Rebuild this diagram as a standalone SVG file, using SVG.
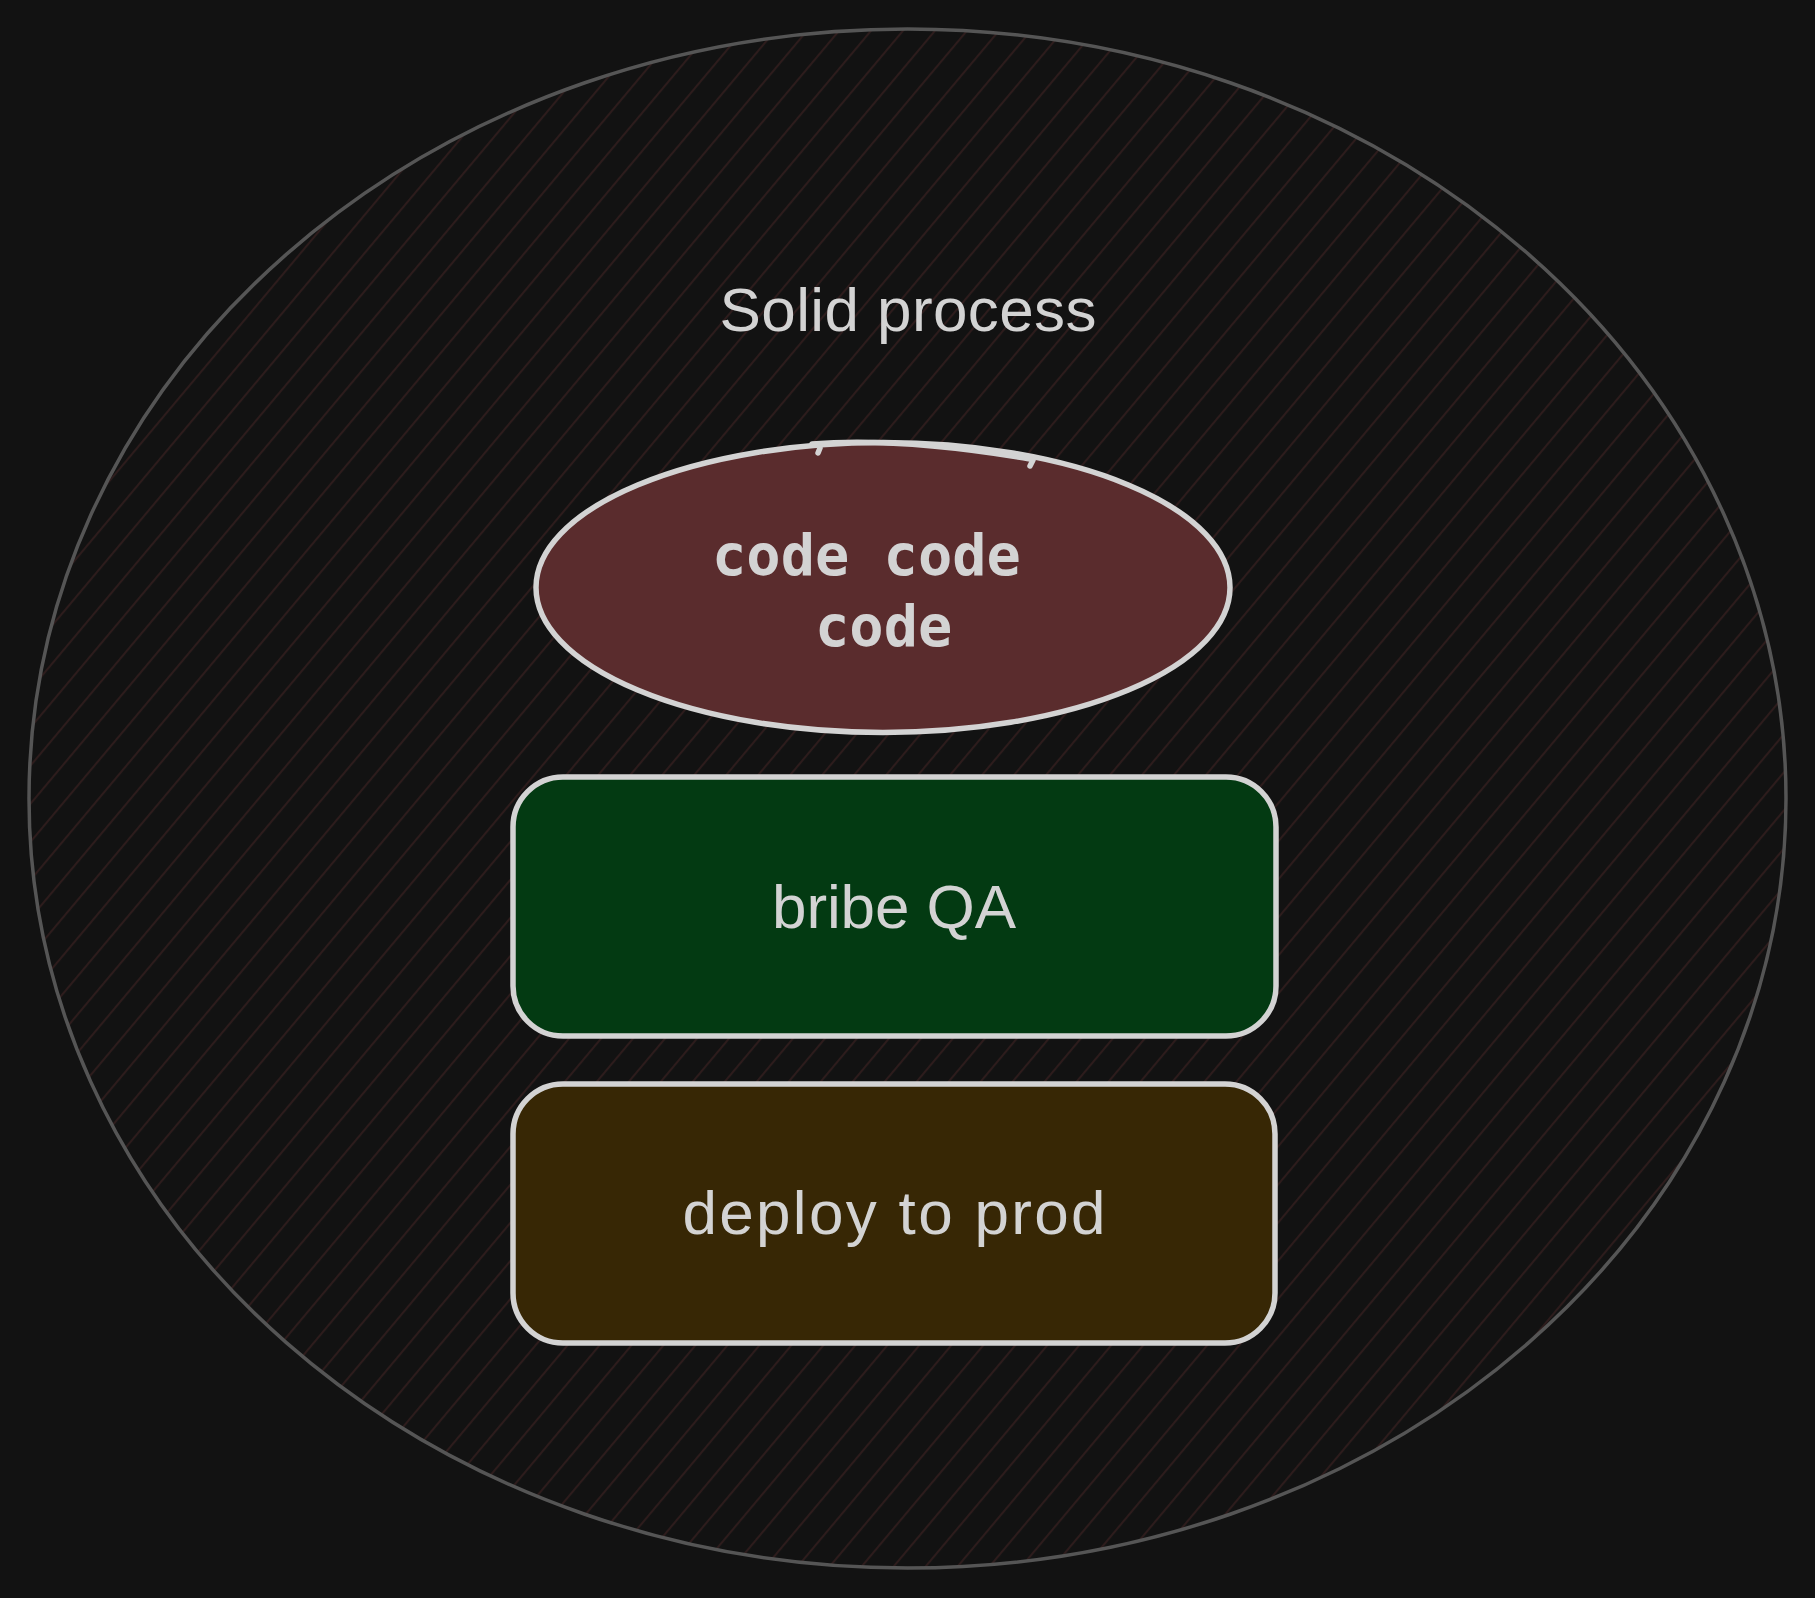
<svg xmlns="http://www.w3.org/2000/svg" width="1815" height="1598" viewBox="0 0 1815 1598">
<defs>
<pattern id="hatch" patternUnits="userSpaceOnUse" width="24.5" height="24.5" patternTransform="rotate(40)">
<line x1="1" y1="0" x2="1" y2="24.5" stroke="#2d1c1c" stroke-width="2"/>
</pattern>
<style>
.lbl{font-family:"Liberation Sans","Open Sans",sans-serif;font-size:62px;fill:#d3d3d3;text-anchor:middle}
.mono{font-family:"DejaVu Sans Mono","Liberation Mono",monospace;font-size:57px;font-weight:bold;fill:#d3d3d3}
.nodeStroke{stroke:#d3d3d3;stroke-width:5.5;stroke-linejoin:round;stroke-linecap:round}
</style>
</defs>
<rect x="0" y="0" width="1815" height="1598" fill="#121212"/>
<g id="container">
<ellipse cx="907.5" cy="798.5" rx="878.5" ry="769.5" fill="url(#hatch)" stroke="#555555" stroke-width="3.5"/>
<text class="lbl" x="908" y="331" textLength="377">Solid process</text>
</g>
<g id="connectors"></g>
<g id="node-code">
<ellipse cx="883" cy="587.5" rx="347" ry="145" fill="#5a2c2d" class="nodeStroke"/>
<path d="M812 444 Q900 437 1030 459" fill="none" class="nodeStroke" stroke-width="4"/>
<path d="M820 448 l-2 5 M1033 460 l-3 6" fill="none" class="nodeStroke" stroke-width="3.5"/>
<text class="mono" x="712" y="575">code code</text>
<text class="mono" x="815" y="646">code</text>
</g>
<g id="node-bribe">
<rect x="513" y="777" width="763" height="259" rx="50" ry="50" fill="#033a12" class="nodeStroke"/>
<text class="lbl" x="894" y="928" textLength="244">bribe QA</text>
</g>
<g id="node-deploy">
<rect x="513" y="1084" width="762" height="259" rx="50" ry="50" fill="#372705" class="nodeStroke"/>
<text class="lbl" x="894" y="1234" textLength="423">deploy to prod</text>
</g>
</svg>
